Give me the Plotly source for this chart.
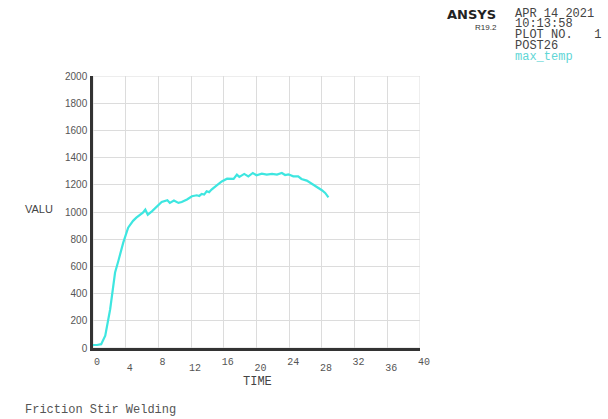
import plotly.graph_objects as go

# POST26 time-history of the maximum nodal temperature
time = [0.0, 0.5, 1.0, 1.5, 2.1, 2.7, 3.1, 3.7, 4.3, 4.9, 5.3, 5.75, 6.1, 6.4, 6.7, 7.2,
        7.8, 8.4, 9.1, 9.4, 9.9, 10.45, 10.85, 11.5, 12.1, 12.7, 13.0, 13.3, 13.6, 13.9,
        14.2, 14.5, 15.1, 15.75, 16.4, 17.2, 17.6, 17.9, 18.5, 19.0, 19.55, 20.0, 20.65,
        21.25, 21.9, 22.5, 23.1, 23.5, 23.9, 24.5, 25.1, 25.5, 26.15, 26.75, 27.35,
        28.0, 28.4, 28.8]
max_temp = [22, 22, 28, 90, 285, 555, 640, 775, 885, 935, 958, 978, 995, 1018, 980, 1005,
            1042, 1073, 1087, 1067, 1084, 1067, 1073, 1092, 1116, 1123, 1118, 1133, 1128,
            1152, 1146, 1165, 1194, 1225, 1245, 1243, 1275, 1258, 1280, 1262, 1287, 1270,
            1282, 1275, 1280, 1275, 1287, 1272, 1277, 1262, 1262, 1243, 1231, 1209, 1189,
            1160, 1140, 1108]

x_upper_ticks = [0, 8, 16, 24, 32, 40]
x_lower_ticks = [4, 12, 20, 28, 36]
y_ticks = list(range(0, 2001, 200))

mono = "Liberation Mono"
sans = "Liberation Sans"
grey = "#555555"
cyan = "#3ee6e0"

W, H = 608, 419
L, R, T, B = 93, 188, 76, 61
PW, PH = W - L - R, H - T - B
STAGGER = 10  # px between the two rows of time labels
y_dom0 = STAGGER / PH

fig = go.Figure()
fig.add_trace(go.Scatter(x=time, y=max_temp, mode="lines",
                         line=dict(color=cyan, width=2.2), showlegend=False,
                         xaxis="x", yaxis="y"))
# invisible carrier for the staggered second row of time labels
fig.add_trace(go.Scatter(x=[0, 40], y=[None, None], mode="lines", showlegend=False,
                         xaxis="x2", yaxis="y", hoverinfo="skip"))

xfont = dict(family=mono, size=10, color=grey)
fig.update_layout(
    width=W, height=H,
    margin=dict(l=L, r=R, t=T, b=B),
    paper_bgcolor="white", plot_bgcolor="white",
    xaxis=dict(range=[0, 40], tickvals=x_upper_ticks + x_lower_ticks,
               ticktext=[str(v) for v in x_upper_ticks] + [""] * len(x_lower_ticks),
               showgrid=True, gridcolor="#dcdcdc", gridwidth=1,
               showline=True, linecolor="#333333", linewidth=2.5,
               zeroline=False, ticks="", ticklabelstandoff=2, ticklabelshift=4,
               tickfont=xfont),
    xaxis2=dict(range=[0, 40], anchor="free", position=0, overlaying="x", side="bottom",
                tickvals=x_lower_ticks, ticktext=[str(v) for v in x_lower_ticks],
                showgrid=False, showline=False, zeroline=False, ticks="",
                ticklabelstandoff=2, ticklabelshift=4, tickfont=xfont),
    yaxis=dict(range=[0, 2000], tickvals=y_ticks, domain=[y_dom0, 1],
               showgrid=True, gridcolor="#dcdcdc", gridwidth=1,
               showline=True, linecolor="#333333", linewidth=2.5,
               zeroline=False, ticks="", ticklabelstandoff=1,
               tickfont=dict(family=sans, size=10, color=grey)),
    shapes=[dict(type="rect", xref="x", yref="y", x0=0, x1=40, y0=0, y1=2000,
                 line=dict(color="#dcdcdc", width=1), layer="below")],
)

head = dict(family=mono, size=12, color="#444444")
annotations = [
    dict(text="VALU", x=23, y=209, font=dict(family=sans, size=11, color="#444444")),
    dict(text="TIME", x=257, y=382, xanchor="center",
         font=dict(family=mono, size=12, color="#444444")),
    dict(text="<b>ANSYS</b>", x=498, y=15, xanchor="right",
         font=dict(family="DejaVu Sans", size=13, color="#222222")),
    dict(text="R19.2", x=499, y=27, xanchor="right",
         font=dict(family=sans, size=8, color="#333333")),
    dict(text="APR 14 2021", x=513, y=14, font=head),
    dict(text="10:13:58", x=513, y=24, font=head),
    dict(text="PLOT NO.&nbsp;&nbsp;&nbsp;1", x=513, y=35, font=head),
    dict(text="POST26", x=513, y=46, font=head),
    dict(text="max_temp", x=513, y=57, font=dict(family=mono, size=12, color="#5fd6d6")),
    dict(text="Friction Stir Welding", x=23, y=410,
         font=dict(family=mono, size=12, color="#555555")),
]
# annotation positions are given in page pixels; convert to paper fractions
for a in annotations:
    px, py = a["x"], a["y"]
    a["xref"], a["yref"] = "paper", "paper"
    a["x"] = (px - L) / PW
    a["y"] = (H - B - py) / PH
    a.setdefault("xanchor", "left")
    a["yanchor"] = "middle"
    a["showarrow"] = False
fig.update_layout(annotations=annotations)

fig.write_html("out.html")
